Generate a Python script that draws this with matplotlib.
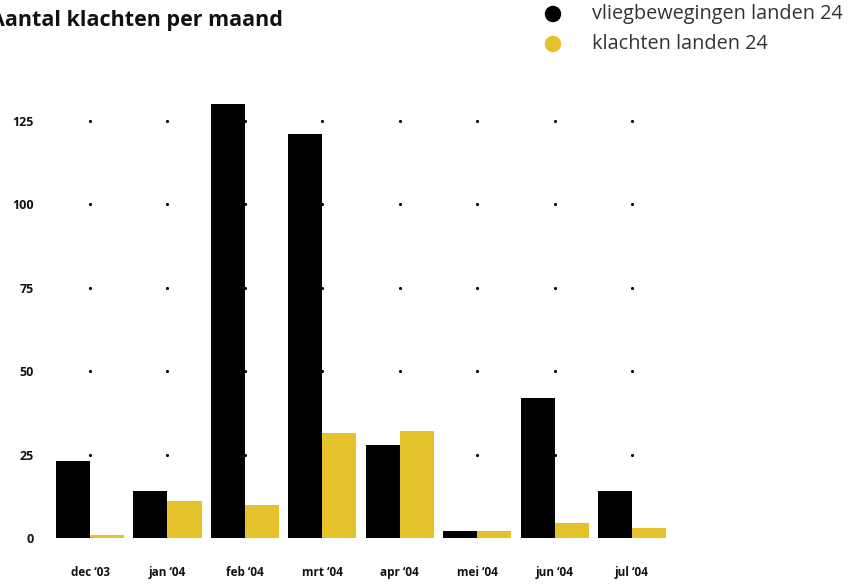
import numpy as np
import matplotlib
matplotlib.use("Agg")
from matplotlib import pyplot as plt

plt.rcParams['font.family'] = ['Open Sans', 'DejaVu Sans']

months = ["dec ‘03", "jan ‘04", "feb ‘04", "mrt ‘04", "apr ‘04", "mei ‘04", "jun ‘04", "jul ‘04"]
vlieg = [23, 14, 130, 121, 28, 2, 42, 14]
klachten = [1, 11, 10, 31.5, 32, 2, 4.5, 3]
yticks = [0, 25, 50, 75, 100, 125]
series_names = ["vliegbewegingen landen 24", "klachten landen 24"]
colors = ["#000000", "#e5c22b"]

fig = plt.figure(figsize=(8.6, 5.84), dpi=100)
ax = fig.add_axes([0.0597, 0.0788, 0.7202, 0.7997])

x = np.arange(len(months))
w = 0.44

# dot grid behind the bars
gx, gy = np.meshgrid(x, yticks[1:])
ax.scatter(gx.ravel(), gy.ravel(), s=5, color="black", zorder=1, linewidths=0)

ax.bar(x - w / 2, vlieg, width=w, color=colors[0], zorder=2)
ax.bar(x + w / 2, klachten, width=w, color=colors[1], zorder=2)

ax.set_xlim(-0.5, len(months) - 0.5)
ax.set_ylim(0, 140)
ax.set_xticks(x)
ax.set_xticklabels(months, fontsize=8.5, fontweight="bold", color="#111111")
ax.set_yticks(yticks)
ax.set_yticklabels([str(t) for t in yticks], fontsize=9, fontweight="bold", color="#111111")
ax.tick_params(axis="x", length=0, pad=20)
ax.tick_params(axis="y", length=0, pad=12.5)
for s in ax.spines.values():
    s.set_visible(False)

fig.text(-0.012, 0.955, "Aantal klachten per maand", fontsize=15.5, fontweight="bold",
         color="#111111", ha="left", va="baseline")

# legend
for i, (name, c) in enumerate(zip(series_names, colors)):
    yy = 1 - (14 + 30 * i) / 584
    fig.patches.append(matplotlib.patches.Ellipse((553 / 860, yy), 15 / 860, 15 / 584,
                                                  transform=fig.transFigure, color=c))
    fig.text(592 / 860, yy, name, fontsize=14.3, color="#333333", ha="left", va="center")

fig.savefig("out.png", dpi=100)
